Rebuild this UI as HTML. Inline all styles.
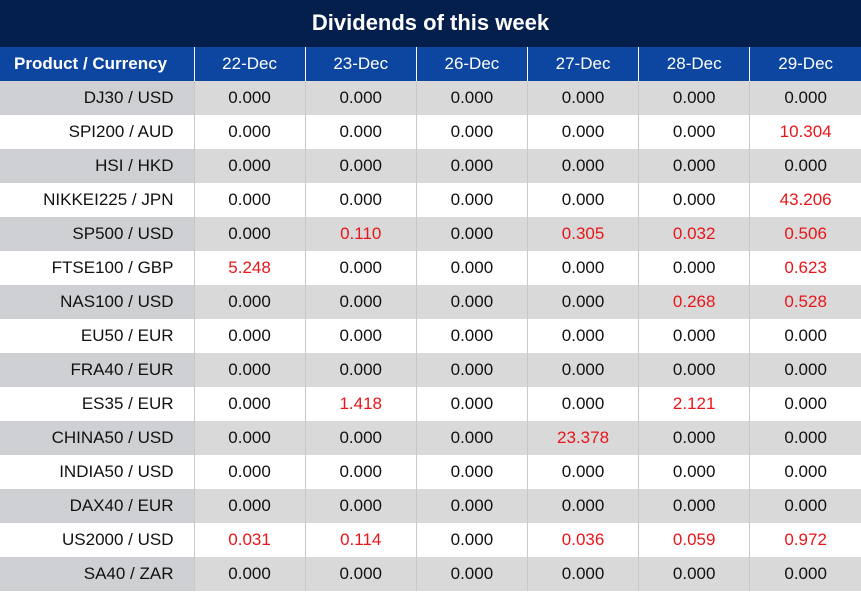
<!DOCTYPE html><html><head><style>
body{margin:0;width:861px;height:592px;overflow:hidden;background:#fff;font-family:"Liberation Sans",sans-serif}
.t{position:absolute;left:0;top:0;width:861px;height:47px;background:#051f4d;color:#fff;font-weight:bold;font-size:22px;text-align:center;line-height:46px}
table{position:absolute;left:0;top:47px;border-collapse:collapse;table-layout:fixed;width:861px}
td{height:34px;max-height:34px;padding:0;font-size:17px;text-align:center;border-left:1px solid #c8c8c8;color:#111;white-space:nowrap;overflow:hidden;line-height:34px}
td:first-child{width:194px;text-align:right;padding-right:20px;box-sizing:border-box;border-left:none}
tr.h td{background:#0c46a0;color:#fff;border-left:1px solid #fff;height:34px}
tr.h td:first-child{font-weight:bold;font-size:17px;text-align:left;padding-left:14px;padding-right:0;border-left:none}
tr.g td{background:#d9d9d9}tr.g td:first-child{background:#cfd0d4}
tr.w td{background:#fff}
.r{color:#e8161a}
</style></head><body>
<div class="t">Dividends of this week</div>
<table>
<tr class="h"><td>Product / Currency</td><td>22-Dec</td><td>23-Dec</td><td>26-Dec</td><td>27-Dec</td><td>28-Dec</td><td>29-Dec</td></tr>
<tr class="g"><td>DJ30 / USD</td><td>0.000</td><td>0.000</td><td>0.000</td><td>0.000</td><td>0.000</td><td>0.000</td></tr>
<tr class="w"><td>SPI200 / AUD</td><td>0.000</td><td>0.000</td><td>0.000</td><td>0.000</td><td>0.000</td><td class="r">10.304</td></tr>
<tr class="g"><td>HSI / HKD</td><td>0.000</td><td>0.000</td><td>0.000</td><td>0.000</td><td>0.000</td><td>0.000</td></tr>
<tr class="w"><td>NIKKEI225 / JPN</td><td>0.000</td><td>0.000</td><td>0.000</td><td>0.000</td><td>0.000</td><td class="r">43.206</td></tr>
<tr class="g"><td>SP500 / USD</td><td>0.000</td><td class="r">0.110</td><td>0.000</td><td class="r">0.305</td><td class="r">0.032</td><td class="r">0.506</td></tr>
<tr class="w"><td>FTSE100 / GBP</td><td class="r">5.248</td><td>0.000</td><td>0.000</td><td>0.000</td><td>0.000</td><td class="r">0.623</td></tr>
<tr class="g"><td>NAS100 / USD</td><td>0.000</td><td>0.000</td><td>0.000</td><td>0.000</td><td class="r">0.268</td><td class="r">0.528</td></tr>
<tr class="w"><td>EU50 / EUR</td><td>0.000</td><td>0.000</td><td>0.000</td><td>0.000</td><td>0.000</td><td>0.000</td></tr>
<tr class="g"><td>FRA40 / EUR</td><td>0.000</td><td>0.000</td><td>0.000</td><td>0.000</td><td>0.000</td><td>0.000</td></tr>
<tr class="w"><td>ES35 / EUR</td><td>0.000</td><td class="r">1.418</td><td>0.000</td><td>0.000</td><td class="r">2.121</td><td>0.000</td></tr>
<tr class="g"><td>CHINA50 / USD</td><td>0.000</td><td>0.000</td><td>0.000</td><td class="r">23.378</td><td>0.000</td><td>0.000</td></tr>
<tr class="w"><td>INDIA50 / USD</td><td>0.000</td><td>0.000</td><td>0.000</td><td>0.000</td><td>0.000</td><td>0.000</td></tr>
<tr class="g"><td>DAX40 / EUR</td><td>0.000</td><td>0.000</td><td>0.000</td><td>0.000</td><td>0.000</td><td>0.000</td></tr>
<tr class="w"><td>US2000 / USD</td><td class="r">0.031</td><td class="r">0.114</td><td>0.000</td><td class="r">0.036</td><td class="r">0.059</td><td class="r">0.972</td></tr>
<tr class="g"><td>SA40 / ZAR</td><td>0.000</td><td>0.000</td><td>0.000</td><td>0.000</td><td>0.000</td><td>0.000</td></tr>
</table>
</body></html>
